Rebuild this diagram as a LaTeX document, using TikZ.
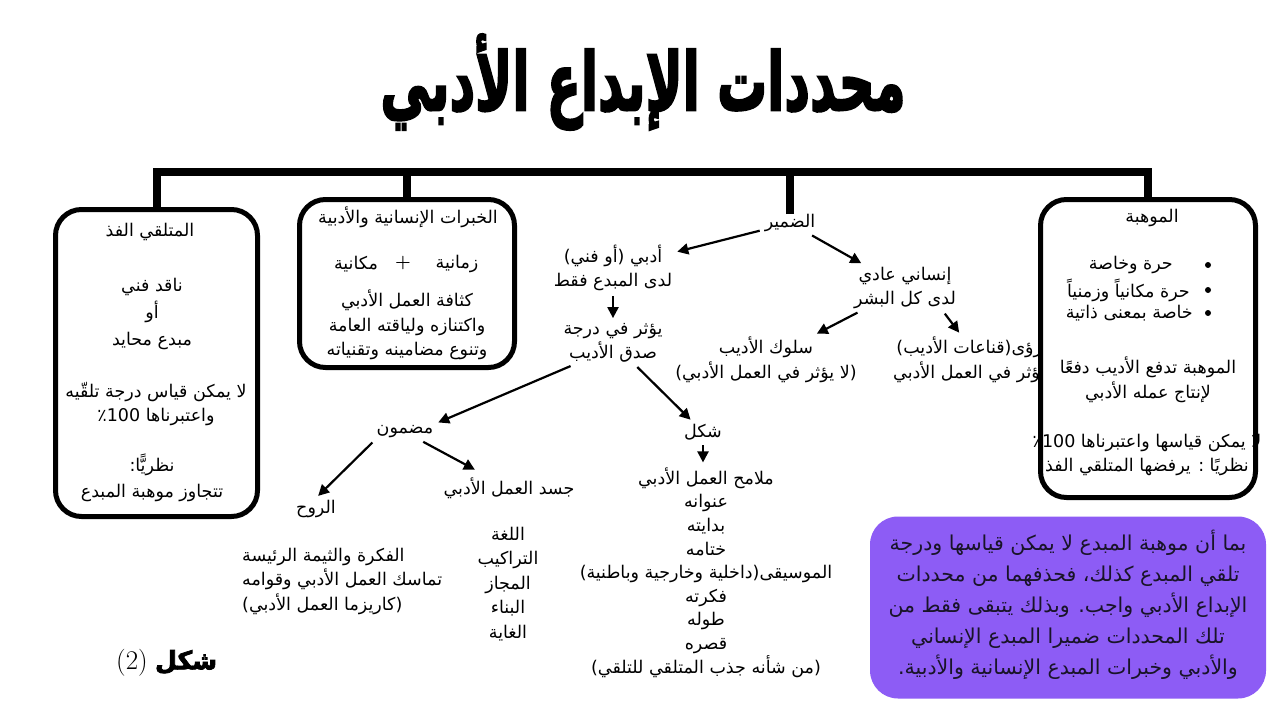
\documentclass[tikz,border=0pt]{standalone}
\usepackage{fontspec}
\usepackage{graphicx}
\usetikzlibrary{arrows.meta}
\newfontfamily\arabicfont[Script=Arabic]{DejaVu Sans}
\newfontfamily\heavyfont[Script=Arabic,FakeBold=3]{DejaVu Sans Bold}
\TeXXeTstate=1
\newcommand\artxt[1]{\beginR #1\endR}
\definecolor{violetbox}{RGB}{141,92,245}
\definecolor{darktext}{RGB}{25,20,40}
\tikzset{
  txt/.style={font=\arabicfont\fontsize{17.5}{24.5}\selectfont, align=center, inner sep=2pt},
  boxA/.style={draw, line width=5pt, rounded corners=26pt, fill=white, inner sep=0pt},
  arr/.style={line width=2.2pt, -{Triangle[length=11pt,width=11pt]}, shorten <=3pt, shorten >=3pt},
  barline/.style={line width=8pt},
}
\begin{document}
\begin{tikzpicture}[x=1pt,y=-1pt]
\useasboundingbox (0,0) rectangle (1280,720);
\fill[white] (0,0) rectangle (1280,720);

% title
\node[inner sep=0pt] (title) at (643,82) {\resizebox{525pt}{76pt}{\heavyfont\artxt{محددات الإبداع الأدبي}}};

% boxes
\node[boxA, minimum width=202pt, minimum height=307pt] (lbox) at (156.5,363) {};
\node[boxA, minimum width=215pt, minimum height=168pt] (mbox) at (407,283.5) {};

% left box text
\node[txt] (lhead) at (150,232) {\artxt{المتلقي الفذ}};
\node[txt, font=\arabicfont\fontsize{17.5}{27}\selectfont] (lcrit) at (152,314) {\artxt{ناقد فني}\\\artxt{أو}\\\artxt{مبدع محايد}};
\node[txt] (lmeas) at (156,404) {\artxt{لا يمكن قياس درجة تلقّيه}\\\artxt{واعتبرناها \beginL ٪\kern0pt 100\endL}};
\node[txt, font=\arabicfont\fontsize{17.5}{26}\selectfont] (lnaz) at (152,478) {\artxt{نظريًّا:}\\\artxt{تتجاوز موهبة المبدع}};

% middle box text
\node[txt] (mhead) at (408,217) {\artxt{الخبرات الإنسانية والأدبية}};
\node[txt] (mzam) at (457,264) {\artxt{زمانية}};
\node[txt, font=\bfseries\fontsize{18}{20}\selectfont] (mplus) at (403,263) {+};
\node[txt] (mmak) at (356,264) {\artxt{مكانية}};
\node[txt] (mdesc) at (407,325) {\artxt{كثافة العمل الأدبي}\\\artxt{واكتنازه ولياقته العامة}\\\artxt{وتنوع مضامينه وتقنياته}};

% centre tree
\node[txt] (damir) at (790,223) {\artxt{الضمير}};
\node[txt] (adabi) at (613,268) {\artxt{أدبي (أو فني)}\\\artxt{لدى المبدع فقط}};
\node[txt] (yuathir) at (613,343) {\artxt{يؤثر في درجة}\\\artxt{صدق الأديب}};
\node[txt] (insani) at (905,288) {\artxt{إنساني عادي}\\\artxt{لدى كل البشر}};
\node[txt] (sulook) at (766,360) {\artxt{سلوك الأديب}\\\artxt{(لا يؤثر في العمل الأدبي)}};
\node[txt, anchor=west] (ruaa) at (891,360) {\artxt{رؤى(قناعات الأديب)}\\\artxt{تؤثر في العمل الأدبي}};

\node[txt] (madmoon) at (405,432) {\artxt{مضمون}};
\node[txt] (rooh) at (316,509) {\artxt{الروح}};
\node[txt] (jasad) at (509,488) {\artxt{جسد العمل الأدبي}};
\node[txt, align=left, anchor=west] (roohdesc) at (240,581) {\artxt{الفكرة والثيمة الرئيسة}\\\artxt{تماسك العمل الأدبي وقوامه}\\\artxt{(كاريزما العمل الأدبي)}};
\node[txt] (jasadlist) at (508,584) {\artxt{اللغة}\\\artxt{التراكيب}\\\artxt{المجاز}\\\artxt{البناء}\\\artxt{الغاية}};

\node[txt] (shakl) at (703,432) {\artxt{شكل}};
\node[txt, font=\arabicfont\fontsize{17.5}{23.6}\selectfont] (shakllist) at (706,572.5) {\artxt{ملامح العمل الأدبي}\\\artxt{عنوانه}\\\artxt{بدايته}\\\artxt{ختامه}\\\artxt{الموسيقى(داخلية وخارجية وباطنية)}\\\artxt{فكرته}\\\artxt{طوله}\\\artxt{قصره}\\\artxt{(من شأنه جذب المتلقي للتلقي)}};

% right box (drawn over the clipped text)
\node[boxA, minimum width=215pt, minimum height=298pt] (rbox) at (1148,348.5) {};
\node[txt] (rhead) at (1152,218) {\artxt{الموهبة}};
\node[txt, anchor=east] (rb1) at (1175,265) {\artxt{حرة وخاصة}};
\node[txt, anchor=east] (rb2) at (1192,290) {\artxt{حرة مكانياً وزمنياً}};
\node[txt, anchor=east] (rb3) at (1195,313) {\artxt{خاصة بمعنى ذاتية}};
\fill (1208,265) circle (3pt);
\fill (1208,290) circle (3pt);
\fill (1208,313) circle (3pt);
\node[txt] (rdesc) at (1148,380) {\artxt{الموهبة تدفع الأديب دفعًا}\\\artxt{لإنتاج عمله الأدبي}};
\node[txt] (rmeas) at (1147,455) {\artxt{لا يمكن قياسها واعتبرناها \beginL ٪\kern0pt 100\endL}\\\artxt{نظريًا : يرفضها المتلقي الفذ}};

% purple note
\node[fill=violetbox, rounded corners=28pt, minimum width=396pt, minimum height=182pt, inner sep=0pt] (pbox) at (1068,607.5) {};
\node[txt, text=darktext, font=\arabicfont\fontsize{20.5}{31}\selectfont] (ptext) at (1068,605) {\artxt{بما أن موهبة المبدع لا يمكن قياسها ودرجة}\\\artxt{تلقي المبدع كذلك، فحذفهما من محددات}\\\artxt{الإبداع الأدبي واجب. وبذلك يتبقى فقط من}\\\artxt{تلك المحددات ضميرا المبدع الإنساني}\\\artxt{والأدبي وخبرات المبدع الإنسانية والأدبية.}};

% figure label
\node[inner sep=0pt, font=\fontsize{27}{29}\selectfont] (fignum) at (132,663) {(2)};
\node[inner sep=0pt] (figword) at (186,662) {\resizebox{62pt}{!}{\heavyfont\artxt{شكل}}};

% top bar
\coordinate (barL) at (150,172);
\draw[barline, line cap=rect] (lbox.north) -- (lbox.north |- barL) -- (rbox.north |- barL) -- (rbox.north);
\draw[barline] (mbox.north) -- (mbox.north |- barL);
\draw[barline] ([yshift=-2pt]damir.north) -- (damir.north |- barL);

% arrows
\draw[arr] (damir) -- (adabi);
\draw[arr] (damir) -- (insani);
\draw[arr] (adabi) -- (yuathir);
\draw[arr] (insani) -- (sulook);
\draw[arr] ([xshift=38pt]insani.south) -- ([xshift=70pt]ruaa.north west);
\draw[arr] ([xshift=12pt]yuathir.south west) -- (madmoon.north east);
\draw[arr] (yuathir) -- (shakl);
\draw[arr] (madmoon.south west) -- (rooh.north);
\draw[arr, shorten >=12pt] (madmoon) -- (jasad);
\draw[arr] (shakl.south) -- (shakl.south |- shakllist.north);
\end{tikzpicture}
\end{document}
